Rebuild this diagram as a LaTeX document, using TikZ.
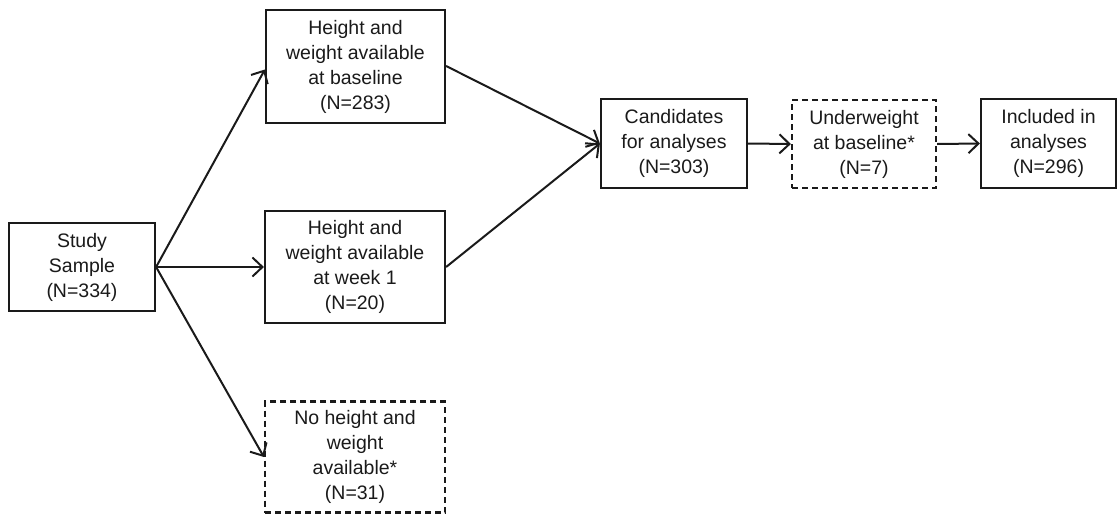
\documentclass[tikz,border=0pt]{standalone}
\usepackage{fontspec}
\setmainfont{Liberation Sans}
\usetikzlibrary{arrows.meta}
\definecolor{ink}{HTML}{1A1A1A}
\begin{document}
\begin{tikzpicture}[x=1pt,y=-1pt,
  box/.style={draw=ink, line width=2.2pt, text=ink, align=center, inner sep=0pt,
    font=\fontsize{19.5}{25}\selectfont},
  dbox/.style={box, dash pattern=on 6pt off 4pt},
  conn/.style={draw=ink, line width=2pt, -{Straight Barb[length=10pt,width=19pt,line width=2pt]}}]
\useasboundingbox (0,0) rectangle (1118,514);
\node[box, minimum width=146pt, minimum height=88pt] (s) at (82,267) {Study\\Sample\\(N=334)};
\node[box, minimum width=179pt, minimum height=113pt] (b1) at (355.5,66.5) {Height and\\weight available\\at baseline\\(N=283)};
\node[box, minimum width=180pt, minimum height=112pt] (b2) at (355,267) {Height and\\weight available\\at week 1\\(N=20)};
\node[dbox, minimum width=180pt, minimum height=111pt] (b3) at (355,457) {No height and\\weight\\available*\\(N=31)};
\node[box, minimum width=146pt, minimum height=89pt] (c) at (674,143.5) {Candidates\\for analyses\\(N=303)};
\node[dbox, minimum width=144pt, minimum height=88pt] (u) at (864,144) {Underweight\\at baseline*\\(N=7)};
\node[box, minimum width=135pt, minimum height=89pt] (i) at (1048.5,143.5) {Included in\\analyses\\(N=296)};
\draw[conn] (s.east) -- ([yshift=-3pt]b1.west);
\draw[conn] (s.east) -- (b2.west);
\draw[conn] (s.east) -- (b3.west);
\draw[conn] ([yshift=0.5pt]b1.east) -- (c.west);
\draw[conn] (b2.east) -- (c.west);
\draw[conn] (c.east) -- (u.west);
\draw[conn] (u.east) -- (i.west);
\end{tikzpicture}
\end{document}
